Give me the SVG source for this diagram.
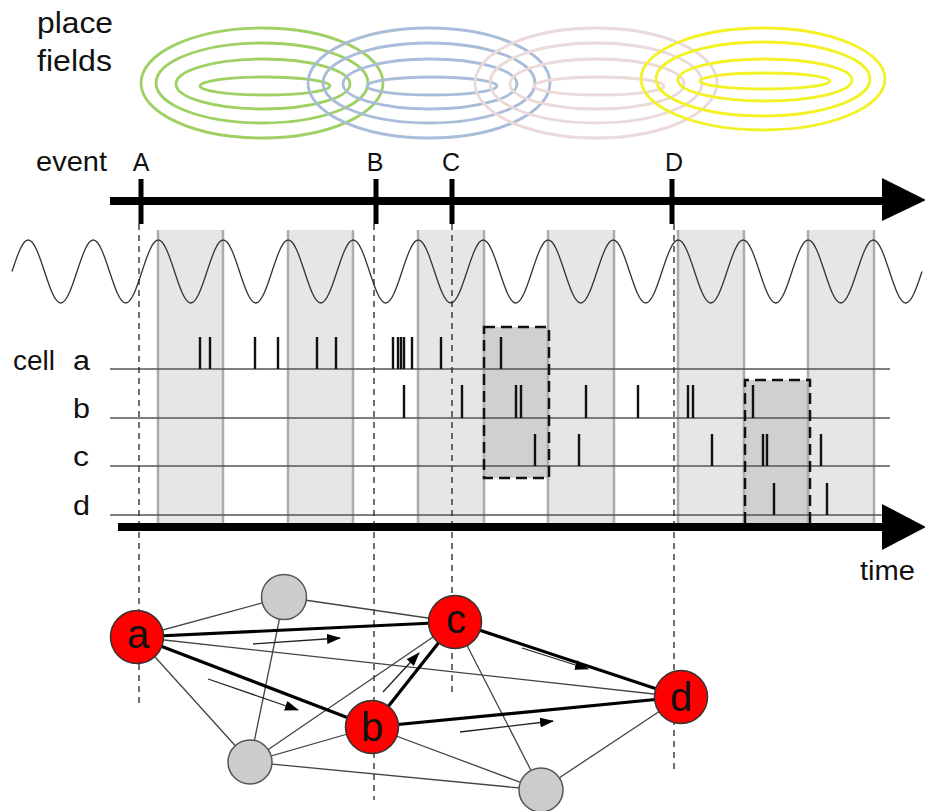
<svg xmlns="http://www.w3.org/2000/svg" width="925" height="811" viewBox="0 0 925 811">
<defs>
<style>
.lbl{font-family:"Liberation Sans",Arial,sans-serif;fill:#111;}
.pf ellipse{fill:none;stroke-width:2.8;}
.band{fill:#e6e6e6;}
.bedge{stroke:#adadad;stroke-width:2.5;}
.cellline{stroke:#555;stroke-width:1.5;}
.spk{stroke:#111;stroke-width:2.4;fill:none;}
.ev{stroke:#222;stroke-width:1.3;stroke-dasharray:6,5;}
.box{fill:#d0d0d0;}
.boxb{fill:none;stroke:#111;stroke-width:2.5;stroke-dasharray:11,6;}
.thin{stroke:#444;stroke-width:1.3;fill:none;}
.thick{stroke:#000;stroke-width:3.2;fill:none;}
.arr{stroke:#222;stroke-width:1.3;fill:none;marker-end:url(#ah);}
.red{fill:#ff0000;stroke:#333;stroke-width:1.5;}
.gray{fill:#cccccc;stroke:#555;stroke-width:1.5;}
.nl{font-family:"Liberation Sans",Arial,sans-serif;font-size:40px;fill:#111;text-anchor:middle;}
</style>
<marker id="ah" markerWidth="14" markerHeight="10" refX="13" refY="5" orient="auto" markerUnits="userSpaceOnUse">
<path d="M0,0 L14,5 L0,10 Z" fill="#000"/>
</marker>
</defs>

<g id="place-fields" class="pf">
<g stroke="#9fd064">
<ellipse cx="262" cy="83" rx="121" ry="55"/><ellipse cx="262" cy="83" rx="106" ry="40"/><ellipse cx="263" cy="84" rx="87" ry="25"/><ellipse cx="265" cy="86" rx="65" ry="9"/>
</g>
<g stroke="#a9bcd9">
<ellipse cx="429" cy="83" rx="121" ry="55"/><ellipse cx="429" cy="83" rx="106" ry="40"/><ellipse cx="430" cy="84" rx="87" ry="25"/><ellipse cx="432" cy="86" rx="65" ry="9"/>
</g>
<g stroke="#ecd9d9">
<ellipse cx="596" cy="83" rx="121" ry="55"/><ellipse cx="596" cy="83" rx="106" ry="40"/><ellipse cx="597" cy="84" rx="87" ry="25"/><ellipse cx="599" cy="86" rx="65" ry="9"/>
</g>
<g stroke="#f2f226">
<ellipse cx="763" cy="79" rx="122" ry="51"/><ellipse cx="763" cy="79" rx="107" ry="37"/><ellipse cx="765" cy="80" rx="87" ry="21"/><ellipse cx="765" cy="81" rx="65" ry="8"/>
</g>
</g>

<g id="labels">
<text class="lbl" x="37" y="33" font-size="30" textLength="76" lengthAdjust="spacingAndGlyphs">place</text>
<text class="lbl" x="37" y="71" font-size="30" textLength="75" lengthAdjust="spacingAndGlyphs">fields</text>
<text class="lbl" x="36" y="171" font-size="28" textLength="71" lengthAdjust="spacingAndGlyphs">event</text>
<text class="lbl" x="141" y="171" font-size="25" text-anchor="middle">A</text>
<text class="lbl" x="375" y="171" font-size="25" text-anchor="middle">B</text>
<text class="lbl" x="451" y="171" font-size="25" text-anchor="middle">C</text>
<text class="lbl" x="674" y="171" font-size="25" text-anchor="middle">D</text>
<text class="lbl" x="13" y="370" font-size="27" textLength="42" lengthAdjust="spacingAndGlyphs">cell</text>
<text class="lbl" x="73" y="370" font-size="27" textLength="17" lengthAdjust="spacingAndGlyphs">a</text>
<text class="lbl" x="73" y="418" font-size="27" textLength="17" lengthAdjust="spacingAndGlyphs">b</text>
<text class="lbl" x="73" y="466" font-size="27" textLength="16" lengthAdjust="spacingAndGlyphs">c</text>
<text class="lbl" x="73" y="515" font-size="27" textLength="17" lengthAdjust="spacingAndGlyphs">d</text>
<text class="lbl" x="860" y="580" font-size="27" textLength="55" lengthAdjust="spacingAndGlyphs">time</text>
</g>

<g id="theta-bands">
<rect class="band" x="158" y="230" width="65" height="293"/>
<rect class="band" x="288" y="230" width="65" height="293"/>
<rect class="band" x="418" y="230" width="66" height="293"/>
<rect class="band" x="548" y="230" width="66" height="293"/>
<rect class="band" x="678" y="230" width="66" height="293"/>
<rect class="band" x="808" y="230" width="66" height="293"/>
<rect class="box" x="484" y="327" width="65" height="151"/>
<rect class="box" x="745" y="380" width="65" height="143"/>
<g class="bedge">
<line x1="158" y1="230" x2="158" y2="523"/><line x1="223" y1="230" x2="223" y2="523"/>
<line x1="288" y1="230" x2="288" y2="523"/><line x1="353" y1="230" x2="353" y2="523"/>
<line x1="418" y1="230" x2="418" y2="523"/><line x1="484" y1="230" x2="484" y2="523"/>
<line x1="548" y1="230" x2="548" y2="523"/><line x1="614" y1="230" x2="614" y2="523"/>
<line x1="678" y1="230" x2="678" y2="523"/><line x1="744" y1="230" x2="744" y2="523"/>
<line x1="808" y1="230" x2="808" y2="523"/><line x1="874" y1="230" x2="874" y2="523"/>
</g>
</g>

<g id="theta-wave">
<path fill="none" stroke="#333" stroke-width="1.3" d="M12,271.5
c5.3,-16.14 10.37,-31.5 16.25,-31.5 c5.88,0 10.95,15.36 16.25,31.5 c5.3,16.14 10.37,31.5 16.25,31.5 c5.88,0 10.95,-15.36 16.25,-31.5
c5.3,-16.14 10.37,-31.5 16.25,-31.5 c5.88,0 10.95,15.36 16.25,31.5 c5.3,16.14 10.37,31.5 16.25,31.5 c5.88,0 10.95,-15.36 16.25,-31.5
c5.3,-16.14 10.37,-31.5 16.25,-31.5 c5.88,0 10.95,15.36 16.25,31.5 c5.3,16.14 10.37,31.5 16.25,31.5 c5.88,0 10.95,-15.36 16.25,-31.5
c5.3,-16.14 10.37,-31.5 16.25,-31.5 c5.88,0 10.95,15.36 16.25,31.5 c5.3,16.14 10.37,31.5 16.25,31.5 c5.88,0 10.95,-15.36 16.25,-31.5
c5.3,-16.14 10.37,-31.5 16.25,-31.5 c5.88,0 10.95,15.36 16.25,31.5 c5.3,16.14 10.37,31.5 16.25,31.5 c5.88,0 10.95,-15.36 16.25,-31.5
c5.3,-16.14 10.37,-31.5 16.25,-31.5 c5.88,0 10.95,15.36 16.25,31.5 c5.3,16.14 10.37,31.5 16.25,31.5 c5.88,0 10.95,-15.36 16.25,-31.5
c5.3,-16.14 10.37,-31.5 16.25,-31.5 c5.88,0 10.95,15.36 16.25,31.5 c5.3,16.14 10.37,31.5 16.25,31.5 c5.88,0 10.95,-15.36 16.25,-31.5
c5.3,-16.14 10.37,-31.5 16.25,-31.5 c5.88,0 10.95,15.36 16.25,31.5 c5.3,16.14 10.37,31.5 16.25,31.5 c5.88,0 10.95,-15.36 16.25,-31.5
c5.3,-16.14 10.37,-31.5 16.25,-31.5 c5.88,0 10.95,15.36 16.25,31.5 c5.3,16.14 10.37,31.5 16.25,31.5 c5.88,0 10.95,-15.36 16.25,-31.5
c5.3,-16.14 10.37,-31.5 16.25,-31.5 c5.88,0 10.95,15.36 16.25,31.5 c5.3,16.14 10.37,31.5 16.25,31.5 c5.88,0 10.95,-15.36 16.25,-31.5
c5.3,-16.14 10.37,-31.5 16.25,-31.5 c5.88,0 10.95,15.36 16.25,31.5 c5.3,16.14 10.37,31.5 16.25,31.5 c5.88,0 10.95,-15.36 16.25,-31.5
c5.3,-16.14 10.37,-31.5 16.25,-31.5 c5.88,0 10.95,15.36 16.25,31.5 c5.3,16.14 10.37,31.5 16.25,31.5 c5.88,0 10.95,-15.36 16.25,-31.5
c5.3,-16.14 10.37,-31.5 16.25,-31.5 c5.88,0 10.95,15.36 16.25,31.5 c5.3,16.14 10.37,31.5 16.25,31.5 c5.88,0 10.95,-15.36 16.25,-31.5
c5.3,-16.14 10.37,-31.5 16.25,-31.5 c5.88,0 10.95,15.36 16.25,31.5 c5.3,16.14 10.37,31.5 16.25,31.5 c5.88,0 10.95,-15.36 16.25,-31.5"/>
</g>

<g id="raster">
<g class="cellline">
<line x1="110" y1="369" x2="890" y2="369"/>
<line x1="110" y1="418" x2="890" y2="418"/>
<line x1="110" y1="466" x2="890" y2="466"/>
<line x1="110" y1="515" x2="890" y2="515"/>
</g>
<path class="spk" d="M200,369v-32M210,369v-32M255,369v-32M278,369v-32M317,369v-32M336,369v-32M393,369v-32M398,369v-32M401,369v-32M404,369v-32M412,369v-32M441,369v-32M501,369v-32
M404,418v-33M462,418v-33M516,418v-33M521,418v-33M586,418v-33M638,418v-33M688,418v-33M693,418v-33M753,418v-33
M535,466v-32M579,466v-32M712,466v-32M763,466v-32M767,466v-32M821,466v-32
M774,515v-32M827,515v-32"/>
<rect class="boxb" x="484" y="327" width="65" height="151"/>
<path class="boxb" d="M745,523V380H810V523"/>
</g>

<g id="event-axis">
<line x1="110" y1="201" x2="885" y2="201" stroke="#000" stroke-width="8"/>
<polygon points="882,178 926,200 882,221" fill="#000"/>
<g stroke="#000" stroke-width="5">
<line x1="141" y1="179" x2="141" y2="224"/>
<line x1="376" y1="179" x2="376" y2="224"/>
<line x1="452" y1="179" x2="452" y2="224"/>
<line x1="672" y1="179" x2="672" y2="224"/>
</g>
</g>

<g id="event-lines" class="ev">
<line x1="139" y1="224" x2="139" y2="708"/>
<line x1="374" y1="224" x2="374" y2="800"/>
<line x1="452" y1="224" x2="452" y2="695"/>
<line x1="674" y1="224" x2="674" y2="773"/>
</g>

<g id="time-axis">
<line x1="118" y1="527" x2="885" y2="527" stroke="#000" stroke-width="8"/>
<polygon points="882,504 926,527 882,550" fill="#000"/>
</g>

<g id="connectors">
<line class="thin" x1="137" y1="637" x2="284" y2="597"/>
<line class="thin" x1="284" y1="597" x2="455" y2="622"/>
<line class="thin" x1="137" y1="637" x2="681" y2="697"/>
<line class="thin" x1="137" y1="637" x2="250" y2="762"/>
<line class="thin" x1="284" y1="597" x2="250" y2="762"/>
<line class="thin" x1="250" y1="762" x2="455" y2="622"/>
<line class="thin" x1="250" y1="762" x2="372" y2="727"/>
<line class="thin" x1="250" y1="762" x2="541" y2="790"/>
<line class="thin" x1="372" y1="727" x2="541" y2="790"/>
<line class="thin" x1="455" y1="622" x2="541" y2="790"/>
<line class="thin" x1="681" y1="697" x2="541" y2="790"/>
<line class="thick" x1="137" y1="637" x2="455" y2="622"/>
<line class="thick" x1="137" y1="637" x2="372" y2="727"/>
<line class="thick" x1="372" y1="727" x2="455" y2="622"/>
<line class="thick" x1="455" y1="622" x2="681" y2="697"/>
<line class="thick" x1="372" y1="727" x2="681" y2="697"/>
<line class="arr" x1="253" y1="644" x2="340" y2="638"/>
<line class="arr" x1="208" y1="679" x2="298" y2="710"/>
<line class="arr" x1="383" y1="692" x2="419" y2="653"/>
<line class="arr" x1="522" y1="648" x2="588" y2="669"/>
<line class="arr" x1="460" y1="732" x2="553" y2="721"/>
</g>

<g id="node-g1"><circle class="gray" cx="284" cy="597" r="22.5"/></g>
<g id="node-g2"><circle class="gray" cx="250" cy="762" r="22"/></g>
<g id="node-g3"><circle class="gray" cx="541" cy="790" r="22"/></g>
<g id="node-a"><circle class="red" cx="137" cy="637" r="26.5"/><text class="nl" x="138" y="648">a</text></g>
<g id="node-c"><circle class="red" cx="455" cy="622" r="26.5"/><text class="nl" x="456" y="633">c</text></g>
<g id="node-b"><circle class="red" cx="372" cy="727" r="26.5"/><text class="nl" x="372" y="741">b</text></g>
<g id="node-d"><circle class="red" cx="681" cy="697" r="26.5"/><text class="nl" x="681" y="711">d</text></g>
</svg>
